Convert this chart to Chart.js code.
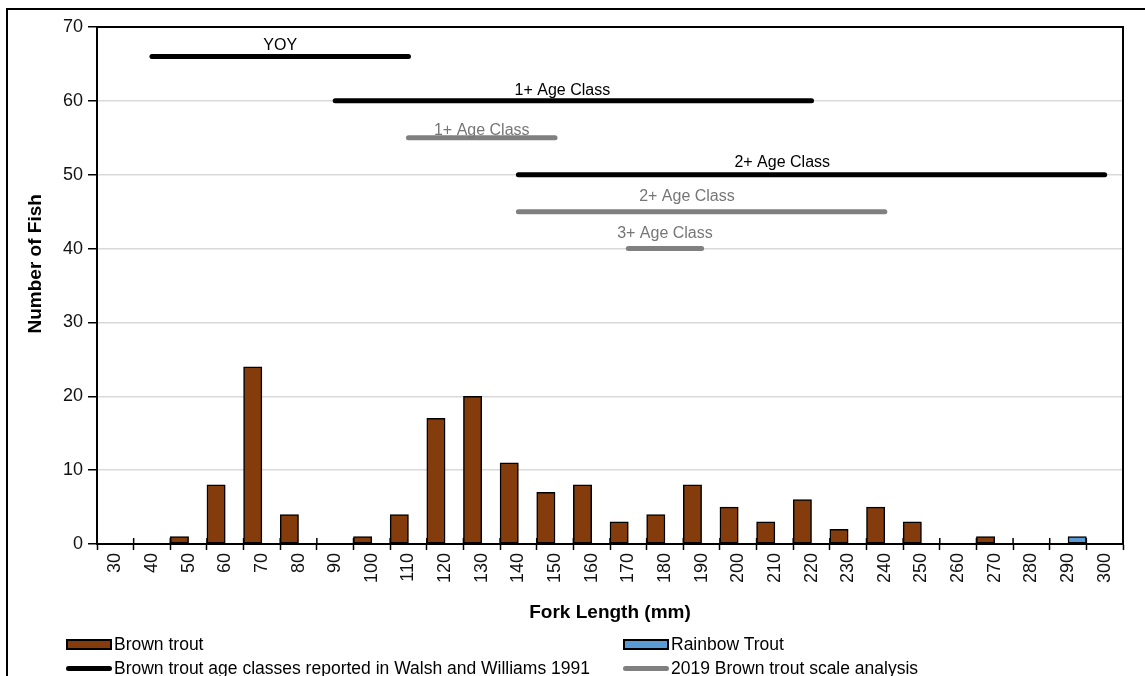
<!DOCTYPE html>
<html>
<head>
<meta charset="utf-8">
<script src="https://cdn.jsdelivr.net/npm/chart.js@4.4.1/dist/chart.umd.min.js"></script>
<style>
  body { margin: 0; background: #fff; font-family: "Liberation Sans", Arial, sans-serif; }
  #wrap { position: relative; width: 1145px; height: 676px; overflow: hidden; }
  #frame { position: absolute; left: 6px; top: 8px; width: 1300px; height: 900px; border: 2px solid #000; box-sizing: border-box; }
  #chart { position: absolute; left: 0; top: 0; }
  .leg { position: absolute; font-size: 17.5px; color: #000; display: flex; align-items: center; white-space: nowrap; }
  .sw { width: 46px; margin-right: 2px; box-sizing: border-box; }
</style>
</head>
<body>
<div id="wrap">
  <div id="frame"></div>
  <canvas id="chart" width="1145" height="676"></canvas>
  <div id="legend"></div>
</div>
<script>
// Fork length classes (mm)
const categories = ['30','40','50','60','70','80','90','100','110','120','130','140','150','160',
  '170','180','190','200','210','220','230','240','250','260','270','280','290','300'];
const brownTrout   = [0,0,1,8,24,4,0,1,4,17,20,11,7,8,3,4,8,5,3,6,2,5,3,0,1,0,0,0];
const rainbowTrout = [0,0,0,0,0,0,0,0,0,0,0,0,0,0,0,0,0,0,0,0,0,0,0,0,0,0,1,0];
const yTicks = [0,10,20,30,40,50,60,70];

// Age classes reported in Walsh and Williams 1991
const walshNames = ['YOY','1+ Age Class','2+ Age Class'];
const walshFrom  = ['40', '90', '140'];
const walshTo    = ['110', '220', '300'];
const walshLevel = [66, 60, 50];
const walshTextX = [75, 152, 212];
const walshTextY = [67.5, 61.4, 51.7];

// 2019 scale analysis
const scaleNames = ['1+ Age Class','2+ Age Class','3+ Age Class'];
const scaleFrom  = ['110', '140', '170'];
const scaleTo    = ['150', '240', '190'];
const scaleLevel = [55, 45, 40];
const scaleTextX = [130, 186, 180];
const scaleTextY = [56.0, 47.0, 42.0];

const BROWN = '#843c0c', BLUE = '#5b9bd5', GRAY = '#808080';
const FONT = '"Liberation Sans", Arial, sans-serif';

// un seul dataset ligne sur l'axe x (un 2e axe x double le nombre de groupes de barres)
const segPoints = [], segColors = [];
function addSegments(from, to, level, color) {
  from.forEach((f, i) => {
    segPoints.push({ x: f, y: level[i] }, { x: to[i], y: level[i] }, { x: to[i], y: null });
    segColors.push(color, color, color);
  });
}
addSegments(walshFrom, walshTo, walshLevel, '#000');
addSegments(scaleFrom, scaleTo, scaleLevel, GRAY);

// position en mm -> pixel via l'échelle catégorie
function mmToPixel(xScale, mm) {
  const first = +categories[0], step = +categories[1] - first;
  return xScale.getPixelForValue((mm - first) / step);
}

// texte des classes d'âge, ticks au-dessus de l'axe, cadre
const extras = {
  id: 'extras',
  beforeDatasetsDraw(chart) {
    const { ctx, chartArea: a, scales } = chart;
    const x = scales.x;
    const step = x.getPixelForValue(1) - x.getPixelForValue(0);
    ctx.save();
    ctx.strokeStyle = '#000';
    ctx.lineWidth = 1.5;
    for (let i = 0; i <= categories.length; i++) {
      const px = x.getPixelForValue(0) - step / 2 + i * step;
      ctx.beginPath();
      ctx.moveTo(px, a.bottom - 6);
      ctx.lineTo(px, a.bottom);
      ctx.stroke();
    }
    ctx.lineWidth = 2;
    ctx.beginPath();
    ctx.moveTo(a.left, a.top);
    ctx.lineTo(a.right, a.top);
    ctx.lineTo(a.right, a.bottom);
    ctx.stroke();
    ctx.restore();
  },
  afterDatasetsDraw(chart) {
    const { ctx, chartArea: a, scales } = chart;
    ctx.save();
    ctx.font = '16px ' + FONT;
    ctx.textAlign = 'center';
    ctx.textBaseline = 'middle';
    ctx.fillStyle = '#000';
    walshNames.forEach((t, i) => ctx.fillText(t, mmToPixel(scales.x, walshTextX[i]), scales.y.getPixelForValue(walshTextY[i])));
    ctx.fillStyle = '#767676';
    scaleNames.forEach((t, i) => ctx.fillText(t, mmToPixel(scales.x, scaleTextX[i]), scales.y.getPixelForValue(scaleTextY[i])));
    // titre axe Y
    ctx.fillStyle = '#000';
    ctx.font = 'bold 19px ' + FONT;
    ctx.translate(36, a.top + (a.bottom - a.top) * 0.458);
    ctx.rotate(-Math.PI / 2);
    ctx.fillText('Number of Fish', 0, 0);
    ctx.restore();
  }
};

const chart = new Chart(document.getElementById('chart'), {
  type: 'bar',
  data: {
    labels: categories,
    datasets: [
      { type: 'bar', label: 'Brown trout', data: brownTrout.map(v => v || null),
        backgroundColor: BROWN, borderColor: '#000', borderWidth: 1.5, borderSkipped: false,
        categoryPercentage: 1, barPercentage: 1 },
      { type: 'bar', label: 'Rainbow Trout', data: rainbowTrout.map(v => v || null),
        backgroundColor: BLUE, borderColor: '#000', borderWidth: 1.5, borderSkipped: false,
        categoryPercentage: 1, barPercentage: 1 },
      { type: 'line', label: 'Age classes', data: segPoints,
        borderColor: '#000', borderWidth: 5, borderCapStyle: 'round', pointRadius: 0,
        fill: false, spanGaps: false,
        segment: { borderColor: c => segColors[c.p0DataIndex] } }
    ]
  },
  options: {
    responsive: false,
    animation: false,
    layout: { padding: { left: 8, right: 22, top: 27, bottom: 51.4 } },
    plugins: { legend: { display: false }, tooltip: { enabled: false } },
    scales: {
      x: {
        type: 'category',
        offset: true,
        grid: { display: true, offset: true, drawOnChartArea: false, drawTicks: true,
                tickLength: 6, tickColor: '#000', tickWidth: 1.5 },
        border: { color: '#000', width: 2 },
        ticks: { color: '#111', font: { family: FONT, size: 18 }, minRotation: 90, maxRotation: 90,
                 autoSkip: false, padding: 3 },
        title: { display: true, text: 'Fork Length (mm)', color: '#000',
                 font: { family: FONT, size: 19, weight: 'bold' }, padding: 0 },
        afterFit(scale) { scale.height = 80.6; }
      },
      y: {
        min: 0, max: 70,
        afterBuildTicks(scale) { scale.ticks = yTicks.map(v => ({ value: v })); },
        grid: { color: '#d9d9d9', lineWidth: 1.5, tickColor: '#000', tickLength: 9, tickWidth: 1.5 },
        border: { color: '#000', width: 2 },
        ticks: { color: '#111', font: { family: FONT, size: 18 }, padding: 5 },
        afterFit(scale) { scale.width = 89; }
      }
    }
  },
  plugins: [extras]
});

// légende
const legendItems = [
  { text: 'Brown trout', kind: 'box', color: BROWN, left: 66, top: 644 },
  { text: 'Rainbow Trout', kind: 'box', color: BLUE, left: 623, top: 644 },
  { text: 'Brown trout age classes reported in Walsh and Williams 1991', kind: 'line', color: '#000', left: 66, top: 668 },
  { text: '2019 Brown trout scale analysis', kind: 'line', color: GRAY, left: 623, top: 668 }
];
const legend = document.getElementById('legend');
legendItems.forEach(it => {
  const d = document.createElement('div');
  d.className = 'leg';
  d.style.left = it.left + 'px';
  d.style.top = (it.top - 10) + 'px';
  d.style.height = '20px';
  const sw = document.createElement('span');
  sw.className = 'sw';
  if (it.kind === 'box') {
    sw.style.height = '11px';
    sw.style.background = it.color;
    sw.style.border = '2px solid #000';
  } else {
    sw.style.height = '5px';
    sw.style.background = it.color;
    sw.style.borderRadius = '3px';
  }
  d.appendChild(sw);
  const t = document.createElement('span');
  t.textContent = it.text;
  d.appendChild(t);
  legend.appendChild(d);
});
</script>
</body>
</html>
